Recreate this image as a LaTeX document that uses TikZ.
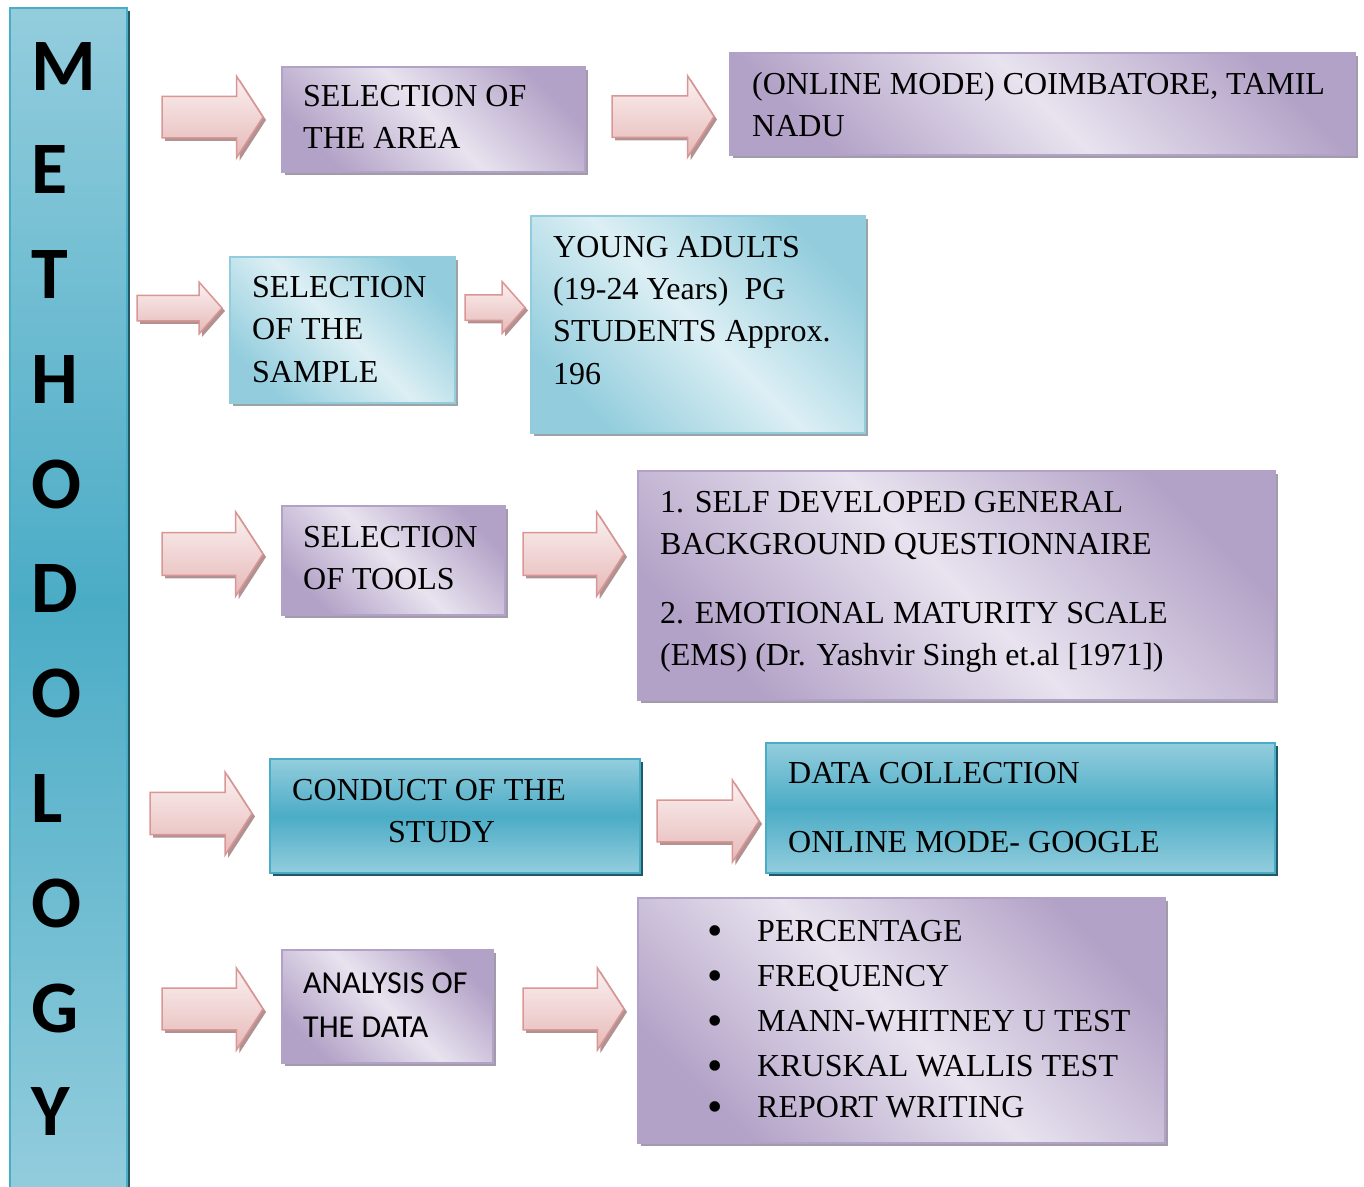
\documentclass[tikz,border=0pt]{standalone}
\usepackage{fontspec}
\setmainfont{Liberation Serif}
\newfontfamily\calib{Carlito}
\usetikzlibrary{shapes.arrows,shadows}
\definecolor{pdark}{HTML}{B3A2C7}
\definecolor{plight}{HTML}{E8E3EF}
\definecolor{pshadow}{HTML}{A29BAA}
\definecolor{cdark}{HTML}{93CDDD}
\definecolor{clight}{HTML}{DCEFF4}
\definecolor{cmid}{HTML}{4BACC6}
\definecolor{cshadow}{HTML}{215968}
\definecolor{gshadow}{HTML}{9EA3A6}
\definecolor{atop}{HTML}{FBF1F1}
\definecolor{abot}{HTML}{E6B9B8}
\definecolor{aborder}{HTML}{D99694}
\definecolor{ashadow}{HTML}{B09292}
\tikzset{
  box/.style={draw, line width=1.5pt, inner sep=0pt, outer sep=0pt, anchor=north west},
  pbox/.style={box, draw=pdark, top color=pdark, bottom color=pdark, middle color=plight, shading angle=-45,
    drop shadow={shadow xshift=3pt, shadow yshift=-3pt, fill=pshadow, opacity=1}},
  cbox/.style={box, draw=cdark, top color=cdark, bottom color=cdark, middle color=clight, shading angle=-45,
    drop shadow={shadow xshift=3pt, shadow yshift=-3pt, fill=gshadow, opacity=1}},
  bbox/.style={box, draw=cmid, top color=cdark, bottom color=cdark, middle color=cmid,
    drop shadow={shadow xshift=3pt, shadow yshift=-3pt, fill=cshadow, opacity=1}},
  arr/.style={single arrow, draw=aborder, line width=1.5pt, top color=atop, bottom color=abot, anchor=tail,
    inner xsep=0pt, inner ysep=20pt, outer sep=0pt, single arrow head extend=20pt, single arrow tip angle=114,
    drop shadow={shadow xshift=3pt, shadow yshift=-3pt, fill=ashadow, opacity=1}},
  sarr/.style={arr, inner ysep=12pt, single arrow head extend=13pt, single arrow tip angle=97},
  letter/.style={anchor=base west, inner sep=0pt, font=\calib\bfseries\fontsize{74}{74}\selectfont},
  lbl/.style={anchor=base west, inner sep=0pt, font=\fontsize{32}{42}\selectfont},
  lblS/.style={anchor=base west, inner sep=0pt, font=\calib\fontsize{32}{40}\selectfont},
  bul/.style={anchor=base, inner sep=0pt, font=\fontsize{44}{44}\selectfont},
}
\begin{document}
\begin{tikzpicture}[x=1pt,y=-1pt]
\useasboundingbox (0,0) rectangle (1364,1186);
% left bar
\node[bbox, line width=1.2pt, minimum width=117pt, minimum height=1190pt] (bar) at (10,8) {};
\node[letter] (l1) at (31,90) {M};
\node[letter] (l2) at (31,193) {E};
\node[letter] (l3) at (31,298) {T};
\node[letter] (l4) at (31,403) {H};
\node[letter] (l5) at (31,508) {O};
\node[letter] (l6) at (31,612) {D};
\node[letter] (l7) at (31,717) {O};
\node[letter] (l8) at (31,822) {L};
\node[letter] (l9) at (31,927) {O};
\node[letter] (l10) at (31,1032) {G};
\node[letter] (l11) at (31,1135) {Y};
% boxes
\node[pbox, minimum width=303pt, minimum height=105pt] (area) at (282,67) {};
\node[pbox, minimum width=625pt, minimum height=102pt] (online) at (730,53) {};
\node[cbox, minimum width=225pt, minimum height=146pt] (sample) at (230,257) {};
\node[cbox, minimum width=334pt, minimum height=217pt] (young) at (531,216) {};
\node[pbox, minimum width=223pt, minimum height=109pt] (tools) at (282,506) {};
\node[pbox, minimum width=637pt, minimum height=229pt] (toolsl) at (638,471) {};
\node[bbox, minimum width=370pt, minimum height=114pt] (conduct) at (270,759) {};
\node[bbox, minimum width=509pt, minimum height=130pt] (data) at (766,743) {};
\node[pbox, minimum width=211pt, minimum height=113pt] (analysis) at (282,950) {};
\node[pbox, minimum width=527pt, minimum height=245pt] (list) at (638,898) {};
% arrows
\node[arr, minimum height=101pt, minimum width=80pt] (a1) at (162,117) {};
\node[arr, minimum height=102pt, minimum width=81pt] (a2) at (612,116.5) {};
\node[sarr, minimum height=85pt, minimum width=50pt] (a3) at (137,308) {};
\node[sarr, minimum height=60pt, minimum width=51pt] (a4) at (465,307.5) {};
\node[arr, minimum height=101pt, minimum width=84pt] (a5) at (162,554) {};
\node[arr, minimum height=101pt, minimum width=84pt] (a6) at (523,554) {};
\node[arr, minimum height=102pt, minimum width=83pt] (a7) at (150,813.5) {};
\node[arr, minimum height=102pt, minimum width=82pt] (a8) at (657,821) {};
\node[arr, minimum height=101pt, minimum width=82pt] (a9) at (162,1009) {};
\node[arr, minimum height=101pt, minimum width=82pt] (a10) at (523,1009) {};
% texts
\node[lbl] (t1a) at (303,106) {SELECTION OF};
\node[lbl] (t1b) at (303,148) {THE AREA};
\node[lbl] (t2a) at (752,94) {(ONLINE MODE) COIMBATORE, TAMIL};
\node[lbl] (t2b) at (752,136) {NADU};
\node[lbl] (t3a) at (252,297) {SELECTION};
\node[lbl] (t3b) at (252,339) {OF THE};
\node[lbl] (t3c) at (252,382) {SAMPLE};
\node[lbl] (t4a) at (553,257) {YOUNG ADULTS};
\node[lbl] (t4b) at (553,299) {(19-24 Years)\ \ PG};
\node[lbl] (t4c) at (553,341) {STUDENTS Approx.};
\node[lbl] (t4d) at (553,384) {196};
\node[lbl] (t5a) at (303,547) {SELECTION};
\node[lbl] (t5b) at (303,589) {OF TOOLS};
\node[lbl] (t6a) at (660,512) {1. SELF DEVELOPED GENERAL};
\node[lbl] (t6b) at (660,554) {BACKGROUND QUESTIONNAIRE};
\node[lbl] (t6c) at (660,623) {2. EMOTIONAL MATURITY SCALE};
\node[lbl] (t6d) at (660,665) {(EMS) (Dr. Yashvir Singh et.al [1971])};
\node[lbl] (t7a) at (292,800) {CONDUCT OF THE};
\node[lbl] (t7b) at (388,842) {STUDY};
\node[lbl] (t8a) at (788,783) {DATA COLLECTION};
\node[lbl] (t8b) at (788,852) {ONLINE MODE- GOOGLE};
\node[lblS] (t9a) at (303,993) {ANALYSIS OF};
\node[lblS] (t9b) at (303,1037) {THE DATA};
\node[bul] (b1) at (715,945) {•};
\node[bul] (b2) at (715,990) {•};
\node[bul] (b3) at (715,1035) {•};
\node[bul] (b4) at (715,1080) {•};
\node[bul] (b5) at (715,1121) {•};
\node[lbl] (u1) at (757,941) {PERCENTAGE};
\node[lbl] (u2) at (757,986) {FREQUENCY};
\node[lbl] (u3) at (757,1031) {MANN-WHITNEY U TEST};
\node[lbl] (u4) at (757,1076) {KRUSKAL WALLIS TEST};
\node[lbl] (u5) at (757,1117) {REPORT WRITING};
\end{tikzpicture}
\end{document}
